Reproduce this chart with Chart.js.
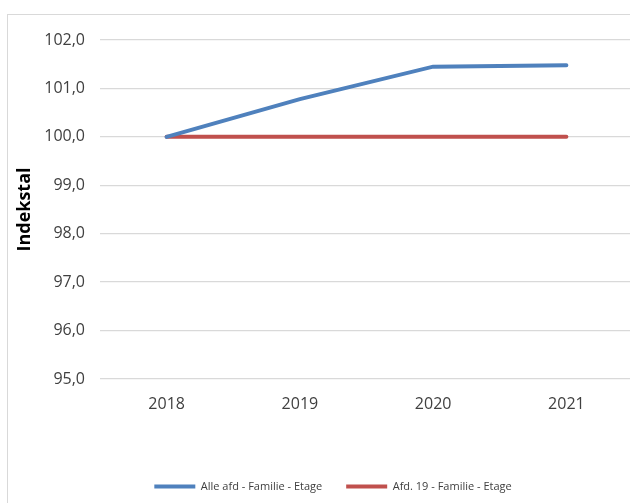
<!DOCTYPE html>
<html>
<head>
<meta charset="utf-8">
<script src="https://cdn.jsdelivr.net/npm/chart.js@4.4.0/dist/chart.umd.min.js"></script>
<style>
  html, body { margin: 0; padding: 0; background: #fff; overflow: hidden; width: 630px; height: 503px; }
  #frame { position: absolute; left: 7px; top: 14px; width: 660px; height: 500px; border: 1px solid #d9d9d9; }
  #wrap { position: absolute; left: 0; top: 0; width: 650px; height: 488px; }
</style>
</head>
<body>
<div id="frame"><div id="wrap"><canvas id="chart"></canvas></div></div>
<script>
// data
const years = ['2018', '2019', '2020', '2021'];
const alleAfd = [100.0, 100.78, 101.45, 101.48];
const afd19 = [100.0, 100.0, 100.0, 100.0];
const seriesNames = ['Alle afd - Familie - Etage', 'Afd. 19 - Familie - Etage'];
const seriesColors = ['#4f81bd', '#c0504d'];

const fontFamily = "'Open Sans', 'Liberation Sans', sans-serif";

const ctx = document.getElementById('chart').getContext('2d');
new Chart(ctx, {
     type: 'line',
     data: {
          labels: years,
          datasets: [
               {
                    label: seriesNames[0],
                    data: alleAfd,
                    borderColor: seriesColors[0],
                    backgroundColor: seriesColors[0],
                    borderWidth: 4,
                    pointRadius: 0,
                    borderCapStyle: 'round',
                    tension: 0,
               },
               {
                    label: seriesNames[1],
                    data: afd19,
                    borderColor: seriesColors[1],
                    backgroundColor: seriesColors[1],
                    borderWidth: 4,
                    pointRadius: 0,
                    borderCapStyle: 'round',
                    tension: 0,
               },
          ],
     },
     options: {
          responsive: true,
          maintainAspectRatio: false,
          animation: false,
          layout: { padding: { top: 25, right: 0, bottom: 1, left: 0 } },
          plugins: {
               tooltip: { enabled: false },
               legend: {
                    position: 'bottom',
                    labels: {
                         boxWidth: 41,
                         boxHeight: 4,
                         padding: 24,
                         color: '#404040',
                         font: { family: fontFamily, size: 11 },
                         generateLabels: (chart) => chart.data.datasets.map((ds, i) => ({
                              text: ds.label,
                              fillStyle: ds.borderColor,
                              strokeStyle: ds.borderColor,
                              lineWidth: 0,
                              fontColor: '#404040',
                              datasetIndex: i,
                         })),
                    },
               },
          },
          scales: {
               x: {
                    offset: true,
                    grid: { display: false, drawTicks: false },
                    border: { display: false },
                    ticks: {
                         color: '#404040',
                         padding: 16,
                         font: { family: fontFamily, size: 16 },
                    },
                    afterFit: (scale) => { scale.height = 78; },
               },
               y: {
                    min: 95,
                    max: 102,
                    grid: { color: '#d9d9d9', lineWidth: 1.3, drawTicks: false },
                    border: { display: false },
                    ticks: {
                         stepSize: 1,
                         color: '#404040',
                         padding: 15,
                         font: { family: fontFamily, size: 16 },
                         callback: (v) => v.toFixed(1).replace('.', ','),
                    },
                    title: {
                         display: true,
                         text: 'Indekstal',
                         color: '#000',
                         padding: { top: 6, bottom: 0 },
                         font: { family: fontFamily, size: 18, weight: 'bold' },
                    },
                    afterFit: (scale) => { scale.width = 92; },
               },
               // empty right-hand spacer so the plot ends where the reference is cropped
               spacer: {
                    position: 'right',
                    grid: { display: false, drawTicks: false },
                    border: { display: false },
                    ticks: { display: false },
                    afterFit: (scale) => { scale.width = 25; },
               },
          },
     },
});
</script>
</body>
</html>
